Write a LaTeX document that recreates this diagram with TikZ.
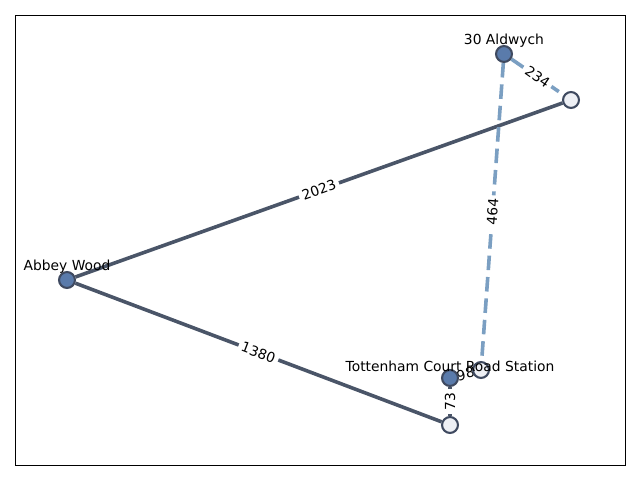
\documentclass[tikz,border=0pt]{standalone}
\usepackage{fontspec}
\setmainfont{DejaVu Sans}
\usetikzlibrary{positioning}
\definecolor{EdgeSlate}{HTML}{4A5568}
\definecolor{EdgeSky}{HTML}{7B9FC2}
\definecolor{NodeBlue}{HTML}{5A7BAB}
\definecolor{NodeRim}{HTML}{3F4A60}
\definecolor{NodePale}{HTML}{EEF0F5}
\pgfdeclarelayer{edges}
\pgfsetlayers{edges,main}
\tikzset{
    every node/.style={font=\fontsize{10}{12}\selectfont},
    % Named station
    station/.style={
        circle,
        draw=NodeRim,
        fill=NodeBlue,
        line width=1.5pt,
        minimum size=11.5pt,
        inner sep=0pt
    },
    % Unnamed stop
    stop/.style={
        circle,
        draw=NodeRim,
        fill=NodePale,
        line width=1.5pt,
        minimum size=11.5pt,
        inner sep=0pt
    },
    % Solid link
    link/.style={
        draw=EdgeSlate,
        line width=2.6pt
    },
    % Dashed link
    walk/.style={
        draw=EdgeSky,
        line width=2.6pt,
        dash pattern=on 10.5pt off 5pt
    },
    % Edge weight
    weight/.style={
        midway,
        sloped,
        fill=white,
        inner sep=2.5pt
    },
    % Station name
    stationlabel/.style={
        inner sep=1pt
    }
}
\begin{document}
\begin{tikzpicture}[x=0.01in, y=-0.01in]
        \useasboundingbox (0,0) rectangle (640,480);
        \draw [line width=0.7pt] (15,15) rectangle (625,465);

        % Stations
        \node (aldwych) [station] at (504,54) {};
        \node (abbey) [station] at (67,280) {};
        \node (tcr) [station] at (450,378) {};
        \node (stopa) [stop] at (571,100) {};
        \node (stopb) [stop] at (481,370) {};
        \node (stopc) [stop] at (450,425) {};

        % Links
        \begin{pgfonlayer}{edges}
        \draw [link] (abbey) -- node [weight] {2023} (stopa);
        \draw [link] (abbey) -- node [weight] {1380} (stopc);
        \draw [link] (tcr) -- node [weight] {98} (stopb);
        \draw [link] (stopc) -- node [weight] {73} (tcr);
        \draw [walk] (aldwych) -- node [weight] {234} (stopa);
        \draw [walk] (aldwych) -- node [weight] {464} (stopb);
        \end{pgfonlayer}

        % Names
        \node (aldwychname) [stationlabel, above=3.5pt of aldwych.center] {30 Aldwych};
        \node (abbeyname) [stationlabel, above=3.5pt of abbey.center] {Abbey Wood};
        \node (tcrname) [stationlabel, above=3.5pt of tcr.center] {Tottenham Court Road Station};
    \end{tikzpicture}
\end{document}
